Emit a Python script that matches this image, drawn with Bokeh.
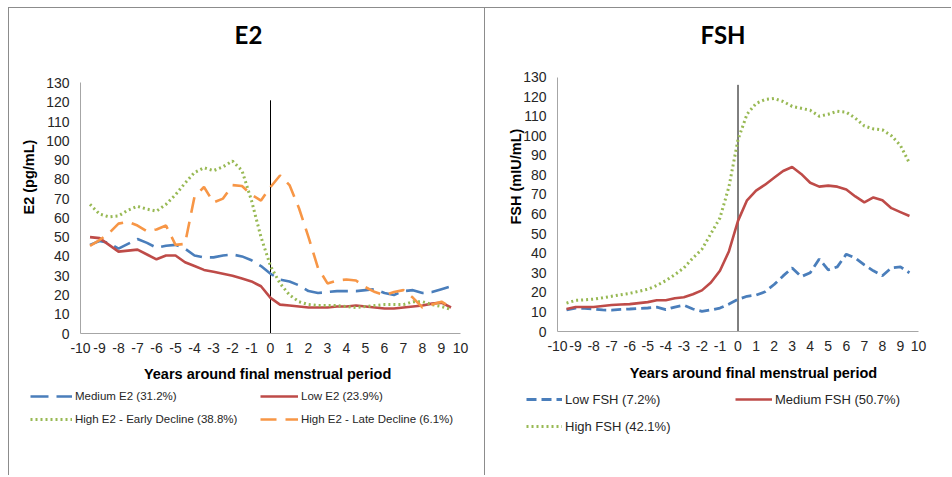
from bokeh.plotting import figure
from bokeh.models import ColumnDataSource, Range1d, Legend, LegendItem, Title, Label
from bokeh.layouts import row, column
from bokeh.embed import file_html
from bokeh.resources import INLINE

# ---------------- data ----------------
years = [-9.5, -9.0, -8.5, -8.0, -7.5, -7.0, -6.5, -6.0, -5.5, -5.0, -4.5, -4.0, -3.5,
         -3.0, -2.5, -2.0, -1.5, -1.0, -0.5, 0.0, 0.5, 1.0, 1.5, 2.0, 2.5, 3.0, 3.5,
         4.0, 4.5, 5.0, 5.5, 6.0, 6.5, 7.0, 7.5, 8.0, 8.5, 9.0, 9.5]
x_ticks = [-10, -9, -8, -7, -6, -5, -4, -3, -2, -1, 0, 1, 2, 3, 4, 5, 6, 7, 8, 9, 10]
x_tick_labels = ["-10", "-9", "-8", "-7", "-6", "-5", "-4", "-3", "-2", "-1", "0",
                 "1", "2", "3", "4", "5", "6", "7", "8", "9", "10"]
y_ticks = [0, 10, 20, 30, 40, 50, 60, 70, 80, 90, 100, 110, 120, 130]

e2_medium = [46, 48, 47, 44, 46.5, 49, 47, 44.5, 45.5, 46, 44, 40.5, 39.5,
             39.5, 40.5, 41, 40, 38, 35, 31, 28, 27, 25, 22, 21, 21.5, 22,
             22, 22, 22.5, 23, 21, 20, 22, 22.5, 21, 21.5, 23, 24.5]
e2_low = [50, 49.5, 46, 42.5, 43, 43.5, 41, 38.5, 40.5, 40.5, 37, 35, 33,
          32, 31, 30, 28.5, 27, 24.5, 18.5, 15, 14.5, 14, 13.5, 13.5, 13.5, 14,
          14, 14.5, 14, 13.5, 13, 13, 13.5, 14, 14.5, 15.5, 16, 13.5]
e2_high_early = [67, 62, 60.5, 61, 64, 66, 64.5, 63.5, 67, 72, 78, 83.5, 86,
                 84.5, 86.5, 89.5, 84.5, 69, 50, 35, 26, 20, 16.5, 15, 14.5, 14.5, 14.5,
                 14, 13.5, 14, 14.5, 15, 15, 15, 16.5, 16.5, 15, 14, 12.5]
e2_high_late = [45.5, 48.5, 52, 57, 58, 56, 53, 54, 56, 46, 46.5, 71, 76,
                68, 70, 77, 76.5, 72, 69, 76, 82, 77, 65, 50, 34, 26, 27.5,
                28, 27.5, 24, 21.5, 20, 21.5, 22.5, 18.5, 13.5, 15, 16.5, 13.5]
e2_fmp_line_top = 121

fsh_low = [11, 12, 11.8, 11.5, 11, 10.9, 11.3, 11.5, 11.8, 12, 12.4, 11.2, 12.5,
           13.4, 11.5, 10.3, 11, 12, 14, 16.4, 18, 18.6, 20.3, 24, 28.4, 32.5, 28,
           30, 37, 31.5, 33, 39.5, 37.5, 34, 31, 28.5, 32.5, 33, 30]
fsh_medium = [11.5, 12.5, 12.5, 12.5, 13, 13.5, 13.8, 14, 14.5, 15, 16, 16, 17,
              17.5, 19, 21, 25, 31, 41, 56.5, 67, 72, 75, 78.5, 82, 84, 80.5,
              76, 74, 74.5, 74, 72.5, 69, 66, 68.5, 67, 63, 61, 59]
fsh_high = [14.5, 15.9, 16.2, 16.5, 17.2, 18, 18.8, 19.5, 20.5, 21.6, 23.5, 26, 29,
            32.5, 37.5, 42, 50, 58, 74, 98, 111, 116.5, 118.5, 119, 117.5, 115, 114,
            113, 110, 111, 112.5, 112, 109, 105, 103.5, 103, 100, 95, 86]
fsh_fmp_line_top = 126

e2_labels = ["Medium E2 (31.2%)", "Low E2 (23.9%)",
             "High E2 - Early Decline (38.8%)", "High E2 - Late Decline (6.1%)"]
fsh_labels = ["Low FSH (7.2%)", "Medium FSH (50.7%)", "High FSH (42.1%)"]
x_title = "Years around final menstrual period"

BLUE = "#4a7ebb"
RED = "#be4b48"
GREEN = "#98b954"
ORANGE = "#f79646"
TXT = "#262626"
AX = "#a6a6a6"
BORDER = "#8c8c8c"

E2_STYLES = [dict(line_color=BLUE, line_width=2.6, line_dash="18 8"),
             dict(line_color=RED, line_width=2.6),
             dict(line_color=GREEN, line_width=3, line_dash="2 3"),
             dict(line_color=ORANGE, line_width=2.6, line_dash="16 9")]
FSH_STYLES = [dict(line_color=BLUE, line_width=2.8, line_dash="10 5"),
              dict(line_color=RED, line_width=2.6),
              dict(line_color=GREEN, line_width=3, line_dash="2 3")]


def base_fig(width, height, ml, mr, mt, mb, ytop):
    p = figure(width=width, height=height, x_range=Range1d(-10, 10), y_range=Range1d(0, ytop),
               output_backend="svg", toolbar_location=None, title_location=None,
               min_border_left=ml, min_border_right=mr, min_border_top=mt, min_border_bottom=mb)
    p.frame_align = False
    p.xgrid.visible = False
    p.ygrid.visible = False
    p.outline_line_color = None
    p.background_fill_color = "white"
    p.border_fill_color = "white"
    p.xaxis.ticker = x_ticks
    p.xaxis.major_label_overrides = {float(t): s for t, s in zip(x_ticks, x_tick_labels)}
    p.yaxis.ticker = y_ticks
    p.yaxis.bounds = (y_ticks[0], y_ticks[-1])
    for ax in (p.xaxis[0], p.yaxis[0]):
        ax.axis_line_color = AX
        ax.axis_line_width = 1
        ax.major_tick_line_color = None
        ax.minor_tick_line_color = None
        ax.major_tick_out = 0
        ax.major_tick_in = 0
        ax.major_label_text_font = "Liberation Sans"
        ax.major_label_text_font_size = "14px"
        ax.major_label_text_color = TXT
    p.xaxis.major_label_standoff = 9
    p.yaxis.major_label_standoff = 11
    return p


def titles(p, main, mx, my, ylab, y_off, y_standoff):
    p.add_layout(Label(x=mx, y=my, text=main, text_font="Lato", text_font_size="24px",
                       text_font_style="bold", text_color="black",
                       text_align="center", text_baseline="middle"))
    p.add_layout(Title(text=ylab, align="left", offset=y_off, standoff=y_standoff,
                       text_font="Liberation Sans", text_font_size="14.5px",
                       text_font_style="bold", text_color="black"), "left")


def lower_fig(width, height):
    q = figure(width=width, height=height, x_range=Range1d(0, width), y_range=Range1d(-height, 0),
               x_axis_location=None, y_axis_location=None, output_backend="svg",
               toolbar_location=None, title_location=None, min_border=0)
    q.frame_align = False
    q.grid.visible = False
    q.outline_line_color = None
    q.background_fill_color = "white"
    q.border_fill_color = "white"
    return q


def add_legend(q, items, x, y, size, spacing, gw):
    lg = Legend(items=[LegendItem(label=l, renderers=[r]) for l, r in items],
                location=(x, y), orientation="vertical", glyph_width=gw,
                glyph_height=18, label_height=18, spacing=spacing,
                padding=0, margin=0, border_line_color=None, background_fill_alpha=0,
                label_text_font="Liberation Sans", label_text_font_size=size,
                label_text_color=TXT, label_standoff=3)
    q.add_layout(lg, "center")


def add_xtitle(q, x, y):
    q.add_layout(Label(x=x, y=y, text=x_title, text_font="Liberation Sans",
                       text_font_size="14.5px", text_font_style="bold", text_color="black",
                       text_align="center", text_baseline="middle"))


# ---------------- E2 panel ----------------
p1 = base_fig(477, 351, 71, 26, 7, 26, 165)
src1 = ColumnDataSource(dict(x=years, med=e2_medium, low=e2_low, he=e2_high_early, hl=e2_high_late))
p1.segment(x0=[0], y0=[0], x1=[0], y1=[e2_fmp_line_top], line_color="black", line_width=1)
for col, st in zip(["med", "low", "he", "hl"], E2_STYLES):
    p1.line("x", col, source=src1, **st)
titles(p1, "E2", -1.16, 155, "E2 (pg/mL)", 119, 14)

q1 = lower_fig(474, 117)
qr1 = [q1.line("x", col, source=src1, **st) for col, st in zip(["med", "low", "he", "hl"], E2_STYLES)]
add_xtitle(q1, 256.5, -15)
add_legend(q1, [(e2_labels[0], qr1[0]), (e2_labels[2], qr1[2])], 21, 47, "11.5px", 5, 42)
add_legend(q1, [(e2_labels[1], qr1[1]), (e2_labels[3], qr1[3])], 251, 47, "11.5px", 5, 38)
q1.width = 477

p1.styles = {"border-left": f"1.5px solid {BORDER}", "border-top": f"1.5px solid {BORDER}",
             "border-right": f"1.5px solid {BORDER}", "box-sizing": "border-box"}
q1.styles = {"border-left": f"1.5px solid {BORDER}", "border-right": f"1.5px solid {BORDER}",
             "box-sizing": "border-box"}

# ---------------- FSH panel ----------------
p2 = base_fig(466, 351, 72, 33, 0, 28, 165)
src2 = ColumnDataSource(dict(x=years, low=fsh_low, med=fsh_medium, high=fsh_high))
p2.segment(x0=[0], y0=[0], x1=[0], y1=[fsh_fmp_line_top], line_color="black", line_width=1)
for col, st in zip(["low", "med", "high"], FSH_STYLES):
    p2.line("x", col, source=src2, **st)
titles(p2, "FSH", -0.83, 151.6, "FSH (mIU/mL)", 107, -6)

q2 = lower_fig(466, 117)
qr2 = [q2.line("x", col, source=src2, **st) for col, st in zip(["low", "med", "high"], FSH_STYLES)]
add_xtitle(q2, 268, -14)
add_legend(q2, [(fsh_labels[0], qr2[0]), (fsh_labels[2], qr2[2])], 41, 40, "13px", 9, 36)
add_legend(q2, [(fsh_labels[1], qr2[1])], 250, 67, "13px", 9, 37)

p2.styles = {"border-top": f"1.5px solid {BORDER}", "box-sizing": "border-box"}

layout = row(column(p1, q1), column(p2, q2), margin=(7, 0, 0, 8))
open("out.html", "w").write(file_html(layout, INLINE))
